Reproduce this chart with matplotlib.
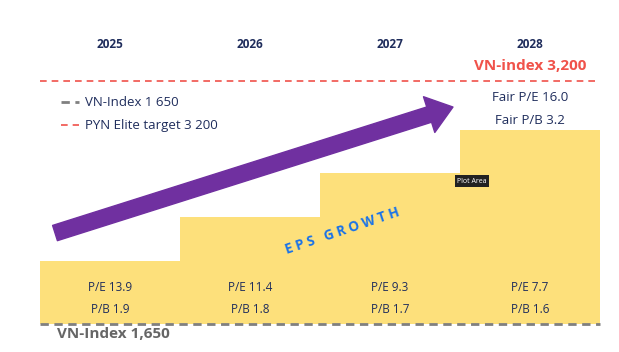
import matplotlib.pyplot as plt
from matplotlib.patches import FancyArrowPatch, ArrowStyle

plt.rcParams['font.family'] = ['Open Sans', 'DejaVu Sans']

# data
years = ['2025', '2026', '2027', '2028']
levels = [2050, 2330, 2610, 2890]      # illustrative step heights (index pts)
pe = [13.9, 11.4, 9.3, 7.7]
pb = [1.9, 1.8, 1.7, 1.6]
base = 1650
target = 3200
fair_pe = 16.0
fair_pb = 3.2

navy = '#1f2d5c'
yellow = '#fde07b'
red = '#f0524a'
grey = '#808080'
purple = '#7030a0'
blue = '#1a73e8'

fig = plt.figure(figsize=(6.19, 3.52), dpi=100)
ax = fig.add_axes([0, 0, 1, 1])
ax.set_xlim(-0.786, 3.636)
ax.set_ylim(1471, 3717)
ax.axis('off')

x = list(range(len(years)))
ax.bar(x, [v - base for v in levels], bottom=base, width=1.0, color=yellow, zorder=1)

red_line = ax.hlines(target, -0.5, 3.5, colors=red, linewidth=1.2,
                     linestyles=(0, (4, 3)), zorder=2, label='PYN Elite target 3 200')
grey_line = ax.hlines(base, -0.5, 3.5, colors=grey, linewidth=2,
                      linestyles=(0, (3, 2)), zorder=2, label='VN-Index 1 650')

for i, yr in enumerate(years):
    ax.text(i, 3436, yr, ha='center', va='center', fontsize=8.5,
            fontweight='bold', color=navy)
    ax.text(i, 1880, f'P/E {pe[i]}', ha='center', va='center', fontsize=8.5, color=navy)
    ax.text(i, 1740, f'P/B {pb[i]}', ha='center', va='center', fontsize=8.5, color=navy)

ax.text(3, 3296, 'VN-index 3,200', ha='center', va='center', fontsize=11,
        fontweight='bold', color=red)
ax.text(3, 3098, f'Fair P/E {fair_pe}', ha='center', va='center',
        fontsize=9.5, color=navy)
ax.text(3, 2951, f'Fair P/B {fair_pb}', ha='center', va='center',
        fontsize=9.5, color=navy)
ax.text(-0.38, 1585, 'VN-Index 1,650', ha='left', va='center', fontsize=11,
        fontweight='bold', color='#666666')

leg = ax.legend(handles=[grey_line, red_line], loc='upper left',
                bbox_to_anchor=(0.08, 0.76), frameon=False, fontsize=9.5,
                handlelength=1.3, handletextpad=0.5, labelspacing=0.75)
for t in leg.get_texts():
    t.set_color(navy)

# growth arrow
arrow = FancyArrowPatch((-0.393, 2230), (2.45, 3034),
                        arrowstyle=ArrowStyle.Simple(head_length=18, head_width=27,
                                                     tail_width=11.5),
                        mutation_scale=1, shrinkA=0, shrinkB=0,
                        color=purple, zorder=3)
ax.add_patch(arrow)

ax.text(1.66, 2240, 'E P S   G R O W T H', ha='center', va='center', fontsize=9.8,
        fontweight='bold', color=blue, rotation=18.7, rotation_mode='anchor')

ax.text(2.586, 2562, 'Plot Area', ha='center', va='center', fontsize=5,
        color='white', bbox=dict(boxstyle='square,pad=0.35', fc='#222222', ec='none'),
        zorder=4)

fig.savefig('out.png', dpi=100)
